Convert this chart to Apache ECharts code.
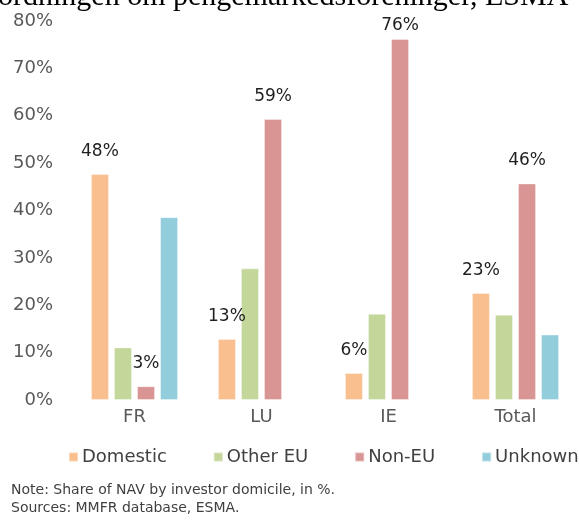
<!DOCTYPE html>
<html>
<head>
<meta charset="utf-8">
<script src="https://cdn.jsdelivr.net/npm/echarts@6/dist/echarts.min.js"></script>
<style>
    html, body { margin: 0; padding: 0; background: #fff; }
    #chart { width: 579px; height: 521px; }
</style>
</head>
<body>
<div id="chart"></div>
<script>
// categories and series (share of NAV, %)
var countries = ['FR', 'LU', 'IE', 'Total'];
var seriesNames = ['Domestic', 'Other EU', 'Non-EU', 'Unknown'];
var domestic = [47.7, 12.9, 5.7, 22.6];
var otherEU = [11.1, 27.8, 18.2, 18.0];
var nonEU = [2.9, 59.3, 76.2, 45.7];
var unknown = [38.6, 0, 0, 13.8];
var yTicks = [0, 10, 20, 30, 40, 50, 60, 70, 80];

var colors = ['#F9BF8F', '#C4D79B', '#D99594', '#92CDDC'];
var labelledSeries = ['Domestic', 'Non-EU'];

var titleText = 'ordningen om pengemarkedsforeninger, ESMA';
var noteLines = [
    'Note: Share of NAV by investor domicile, in %.',
    'Sources: MMFR database, ESMA.'
];

var chart = echarts.init(document.getElementById('chart'));

function makeSeries(name, values, idx) {
    var showLabel = labelledSeries.indexOf(name) >= 0;
    return {
        name: name,
        type: 'bar',
        barWidth: 18,
        barGap: '28%',
        itemStyle: {
            color: colors[idx],
            borderColor: 'rgba(255,255,255,0.35)',
            borderWidth: 1
        },
        label: {
            show: showLabel,
            position: 'top',
            distance: 14,
            color: '#1f1f1f',
            fontFamily: 'DejaVu Sans',
            fontSize: 17,
            formatter: function (p) {
                return Math.round(p.value) + '%';
            }
        },
        data: values.map(function (v) {
            // tallest bar's label sits tighter under the title
            if (v > 70) {
                return {value: v, label: {distance: 5}};
            }
            return v;
        })
    };
}

var option = {
    animation: false,
    color: colors,
    grid: {
        left: 71,
        right: -5,
        top: 21,
        bottom: 121
    },
    legend: {
        data: seriesNames,
        left: 63,
        top: 443,
        width: 700,
        icon: 'rect',
        itemWidth: 9,
        itemHeight: 9,
        itemGap: 46,
        textStyle: {
            color: '#404040',
            fontFamily: 'DejaVu Sans',
            fontSize: 18,
            padding: [0, 0, 0, -1]
        }
    },
    xAxis: {
        type: 'category',
        data: countries,
        axisLine: {show: false},
        axisTick: {show: false},
        axisLabel: {
            color: '#595959',
            fontFamily: 'DejaVu Sans',
            fontSize: 18,
            margin: 8
        }
    },
    yAxis: {
        type: 'value',
        min: yTicks[0],
        max: yTicks[yTicks.length - 1],
        interval: yTicks[1] - yTicks[0],
        splitLine: {show: false},
        axisLine: {show: false},
        axisTick: {show: false},
        axisLabel: {
            color: '#595959',
            fontFamily: 'DejaVu Sans',
            fontSize: 18,
            margin: 18,
            formatter: '{value}%'
        }
    },
    graphic: [
        {
            type: 'text',
            left: -2,
            top: -18,
            style: {
                text: titleText,
                fill: '#000',
                font: '30px "Liberation Serif"'
            }
        },
        {
            type: 'text',
            left: 11,
            top: 483,
            style: {
                text: noteLines[0],
                fill: '#404040',
                font: '14px "DejaVu Sans"'
            }
        },
        {
            type: 'text',
            left: 11,
            top: 501,
            style: {
                text: noteLines[1],
                fill: '#404040',
                font: '14px "DejaVu Sans"'
            }
        }
    ],
    series: [
        makeSeries(seriesNames[0], domestic, 0),
        makeSeries(seriesNames[1], otherEU, 1),
        makeSeries(seriesNames[2], nonEU, 2),
        makeSeries(seriesNames[3], unknown, 3)
    ]
};

chart.setOption(option);
</script>
</body>
</html>
